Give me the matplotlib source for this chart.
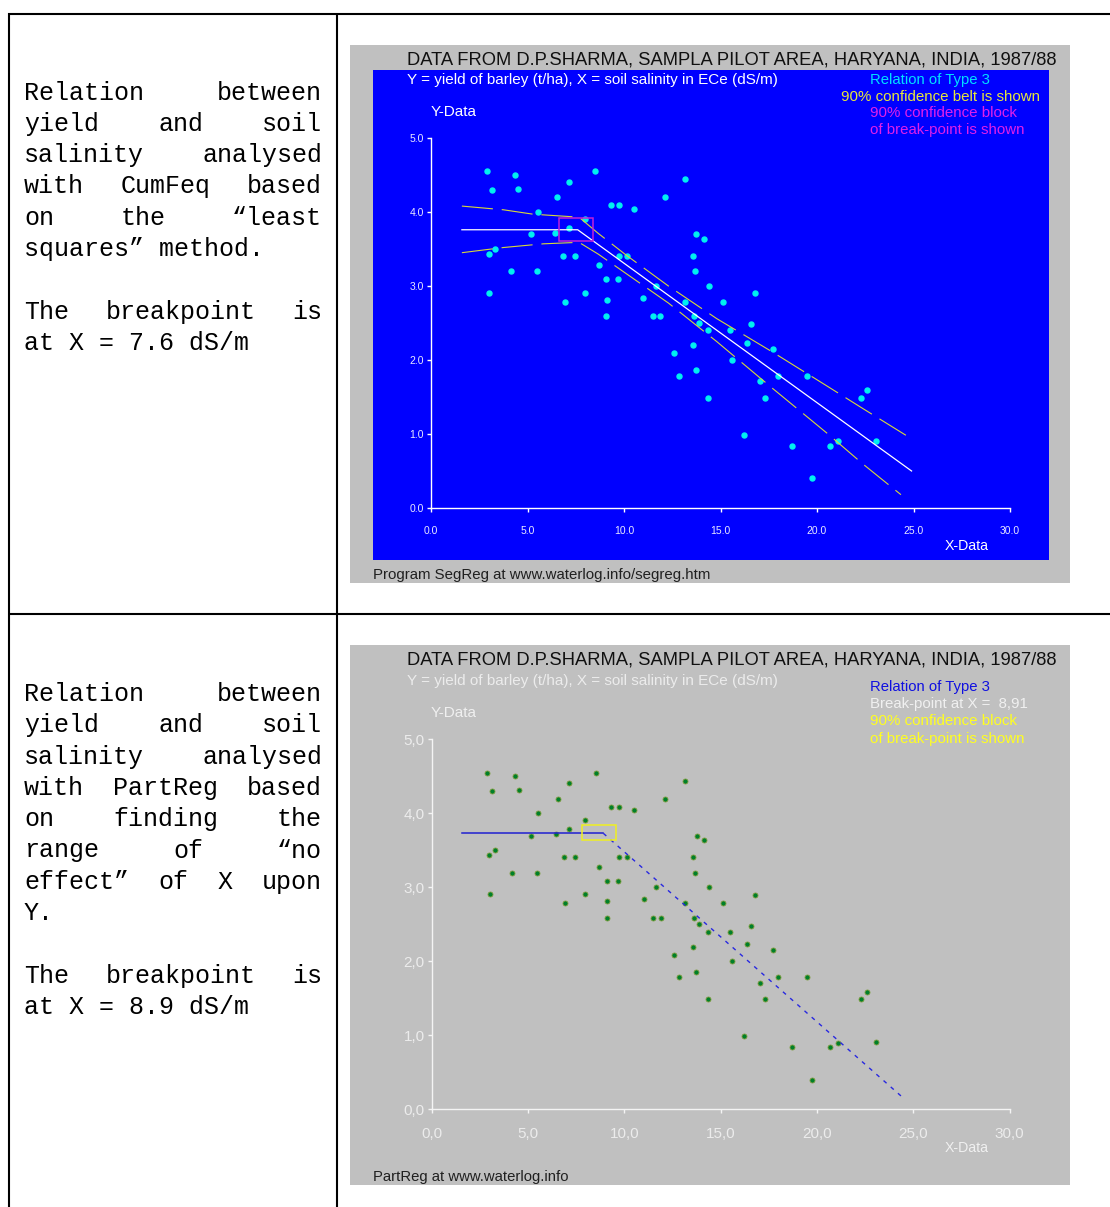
import matplotlib
matplotlib.use("Agg")
import matplotlib.pyplot as plt
from matplotlib import font_manager
from matplotlib.lines import Line2D
from matplotlib.patches import Rectangle

# barley yield (t/ha) against soil salinity ECe (dS/m), Sampla pilot area
salinity = [
    2.90, 3.14, 4.33, 4.51, 5.53, 6.54, 7.15, 8.52, 7.98, 7.15,
    5.18, 6.43, 3.00, 3.31, 4.15, 5.48, 3.01, 6.85, 7.45, 6.92,
    7.98, 8.70, 9.08, 9.67, 9.12, 9.08, 9.32, 9.74, 10.51, 9.74,
    10.14, 12.12, 13.14, 11.00, 11.64, 11.51, 11.89, 13.75, 14.16, 13.57,
    13.69, 14.40, 13.14, 15.13, 13.63, 13.88, 16.78, 14.33, 15.47, 16.56,
    16.35, 17.73, 13.55, 12.60, 15.59, 12.84, 13.72, 17.98, 19.47, 17.03,
    14.33, 17.32, 22.60, 22.30, 16.23, 18.70, 20.67, 21.09, 23.08, 19.72,
]
yield_tha = [
    4.55, 4.30, 4.50, 4.31, 4.00, 4.20, 4.41, 4.55, 3.91, 3.79,
    3.70, 3.72, 3.43, 3.50, 3.20, 3.20, 2.91, 3.41, 3.41, 2.79,
    2.91, 3.28, 3.09, 3.09, 2.81, 2.59, 4.09, 4.09, 4.04, 3.41,
    3.41, 4.20, 4.44, 2.84, 3.00, 2.59, 2.59, 3.70, 3.64, 3.41,
    3.20, 3.00, 2.79, 2.79, 2.59, 2.50, 2.90, 2.40, 2.40, 2.48,
    2.23, 2.15, 2.20, 2.09, 2.00, 1.79, 1.86, 1.79, 1.79, 1.71,
    1.49, 1.49, 1.59, 1.49, 0.99, 0.84, 0.84, 0.90, 0.91, 0.40,
]

# SegReg fit: flat up to the break-point, then a straight decline
seg_x = [1.6, 7.6, 24.9]
seg_y = [3.76, 3.76, 0.50]
belt_hi_x = [1.6, 3.75, 5.3, 7.67, 8.67, 10.1, 12.3, 14.8, 17.68, 20.57, 22.4, 24.87]
belt_hi_y = [4.08, 4.03, 3.97, 3.93, 3.71, 3.42, 3.00, 2.56, 2.11, 1.64, 1.34, 0.94]
belt_lo_x = [1.6, 3.75, 5.82, 7.67, 8.67, 10.1, 12.3, 14.8, 17.68, 20.57, 22.4, 24.35]
belt_lo_y = [3.45, 3.52, 3.57, 3.59, 3.43, 3.17, 2.77, 2.25, 1.62, 1.00, 0.59, 0.18]
seg_block = (6.65, 8.41, 3.61, 3.92)  # x0, x1, y0, y1

# PartReg fit: "no effect" range, then a dashed decline
part_flat_x = [1.58, 8.91]
part_flat_y = [3.73, 3.73]
part_slope_x = [8.91, 24.36]
part_slope_y = [3.73, 0.18]
part_block = (7.82, 9.55, 3.64, 3.84)

x_ticks = [0, 5, 10, 15, 20, 25, 30]
y_ticks = [0, 1, 2, 3, 4, 5]

title = "DATA FROM D.P.SHARMA, SAMPLA PILOT AREA, HARYANA, INDIA, 1987/88"
subtitle = "Y = yield of barley (t/ha), X = soil salinity in ECe (dS/m)"

top_lines = [
    "Relation between", "yield and soil", "salinity analysed",
    "with CumFeq based", "on the \u201cleast", "squares\u201d method.", "",
    "The breakpoint is", "at X = 7.6 dS/m",
]
bottom_lines = [
    "Relation between", "yield and soil", "salinity analysed",
    "with PartReg based", "on finding the", "range of \u201cno",
    "effect\u201d of X upon", "Y.", "",
    "The breakpoint is", "at X = 8.9 dS/m",
]

W, H = 1110, 1207
fig = plt.figure(figsize=(W / 100, H / 100), dpi=100)
fig.patch.set_facecolor("white")
renderer = fig.canvas.get_renderer()

names = {f.name for f in font_manager.fontManager.ttflist}
CHART_FONT = "Liberation Sans Narrow" if "Liberation Sans Narrow" in names else "Liberation Sans"
MONO = "Liberation Mono"


def fx(x):
    return x / W


def fy(y):
    return 1 - y / H


def box(x0, y0, x1, y1, color):
    fig.add_artist(Rectangle((fx(x0), fy(y1)), (x1 - x0) / W, (y1 - y0) / H,
                             transform=fig.transFigure, facecolor=color,
                             edgecolor="none", zorder=-5))


def rule(x0, y0, x1, y1):
    fig.add_artist(Line2D([fx(x0), fx(x1)], [fy(y0), fy(y1)], transform=fig.transFigure,
                          color="black", lw=1.5, solid_capstyle="butt"))


def label(x, y, s, color, width, size=11):
    """Chart text, sized so it spans `width` pixels."""
    t = fig.text(fx(x), fy(y), s, color=color, fontsize=size, family=CHART_FONT,
                 ha="left", va="center")
    w = t.get_window_extent(renderer).width
    t.set_fontsize(size * width / w)
    return t


def paragraph(lines, baseline, left=24, right=322, step=31.3):
    """Justified monospace text; the last line of a paragraph stays ragged."""
    for i, line in enumerate(lines):
        if not line:
            continue
        y = fy(baseline + i * step)
        last = i + 1 == len(lines) or not lines[i + 1]
        words = line.split()
        if last or len(words) == 1:
            fig.text(fx(left), y, line, family=MONO, fontsize=18, va="baseline")
            continue
        texts = [fig.text(0, y, w, family=MONO, fontsize=18, va="baseline") for w in words]
        widths = [t.get_window_extent(renderer).width for t in texts]
        gap = (right - left - sum(widths)) / (len(words) - 1)
        x = left
        for t, w in zip(texts, widths):
            t.set_x(fx(x))
            x += w + gap


def data_axes(x0, x1, y_top, y_bot, axis_color, label_color, size, decimal):
    ax = fig.add_axes([fx(x0), fy(y_bot), (x1 - x0) / W, (y_bot - y_top) / H])
    ax.set_xlim(0, 30)
    ax.set_ylim(0, 5)
    ax.patch.set_visible(False)
    for side in ("top", "right"):
        ax.spines[side].set_visible(False)
    for side in ("left", "bottom"):
        ax.spines[side].set_color(axis_color)
        ax.spines[side].set_linewidth(1.0)
    fmt = lambda v: f"{v:.1f}".replace(".", decimal)
    ax.set_xticks(x_ticks, [fmt(v) for v in x_ticks])
    ax.set_yticks(y_ticks, [fmt(v) for v in y_ticks])
    ax.tick_params(colors=axis_color, labelcolor=label_color, length=3, width=1,
                   labelsize=size, direction="out")
    ax.tick_params(axis="x", pad=10)
    ax.tick_params(axis="y", pad=2)
    for t in ax.get_xticklabels() + ax.get_yticklabels():
        t.set_family(CHART_FONT)
    return ax


# table grid
rule(8, 14, W, 14)
rule(8, 614, W, 614)
rule(9, 13, 9, H)
rule(337, 13, 337, H)

paragraph(top_lines, 99.5)
paragraph(bottom_lines, 701)

# --- SegReg chart ---
box(350, 45, 1070, 583, "#c0c0c0")
box(373, 70, 1049, 560, "#0000ff")
ax1 = data_axes(431, 1010, 138, 508, "white", "#e8e8ff", 7.5, ".")
ax1.plot(salinity, yield_tha, "o", ms=3.6, color="#00f0f0", mec="#00f0f0", clip_on=False, zorder=3)
ax1.plot(seg_x, seg_y, color="white", lw=0.9, zorder=4)
for bx, by in ((belt_hi_x, belt_hi_y), (belt_lo_x, belt_lo_y)):
    ax1.plot(bx, by, color="#d8d83a", lw=0.8, dashes=(28, 8), zorder=4)
x0, x1, y0, y1 = seg_block
ax1.add_patch(Rectangle((x0, y0), x1 - x0, y1 - y0, fill=False, edgecolor="#c020d8", lw=1.1, zorder=5))

label(407, 60, title, "#101010", 650)
label(407, 80, subtitle, "white", 371)
label(870, 80, "Relation of Type 3", "#00e0ff", 120)
label(841, 97, "90% confidence belt is shown", "#e6e63c", 199)
label(870, 113, "90% confidence block", "#e020e8", 147)
label(870, 130, "of break-point is shown", "#e020e8", 154)
label(431, 112, "Y-Data", "white", 46)
label(945, 546, "X-Data", "white", 44)
label(373, 575, "Program SegReg at www.waterlog.info/segreg.htm", "#202020", 335)

# --- PartReg chart ---
box(350, 645, 1070, 1185, "#c0c0c0")
ax2 = data_axes(431.6, 1009.7, 739.3, 1109.3, "#f4f4f4", "#ececec", 11, ",")
ax2.plot(salinity, yield_tha, "o", ms=3.6, mfc="#00802a", mec="#7c9c3c", mew=0.6, clip_on=False, zorder=3)
ax2.plot(part_flat_x, part_flat_y, color="#2020d0", lw=1.1, zorder=4)
ax2.plot(part_slope_x, part_slope_y, color="#2828e0", lw=1.0, dashes=(2.9, 4), zorder=4)
x0, x1, y0, y1 = part_block
ax2.add_patch(Rectangle((x0, y0), x1 - x0, y1 - y0, fill=False, edgecolor="#f0f020", lw=1.1, zorder=5))

label(407, 660, title, "#101010", 650)
label(407, 681, subtitle, "#ececec", 371)
label(870, 687, "Relation of Type 3", "#1010e0", 120)
label(870, 704, "Break-point at X =  8,91", "#f0f0f0", 158)
label(870, 721, "90% confidence block", "#ffff20", 147)
label(870, 739, "of break-point is shown", "#ffff20", 154)
label(431, 713, "Y-Data", "#f0f0f0", 46)
label(945, 1148, "X-Data", "#f0f0f0", 44)
label(373, 1177, "PartReg at www.waterlog.info", "#202020", 195)

fig.savefig("out.png", dpi=100)
